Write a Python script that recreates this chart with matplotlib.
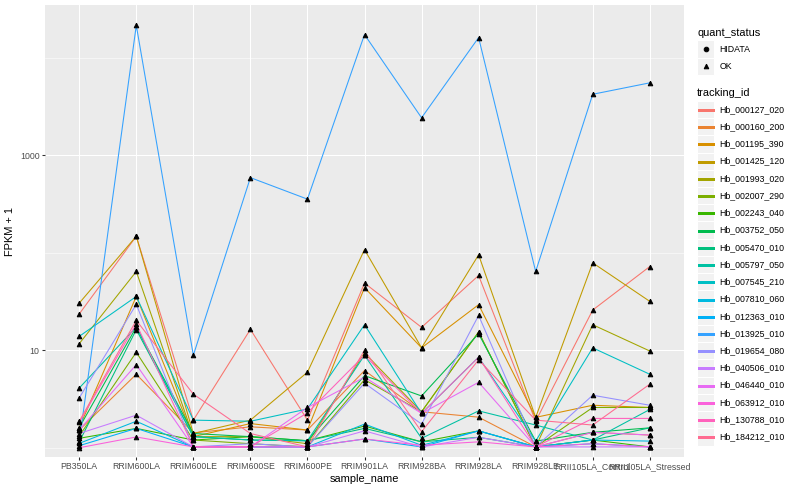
import numpy as np
import matplotlib
matplotlib.use("Agg")
import matplotlib.pyplot as plt
from matplotlib.patches import Rectangle
from matplotlib.lines import Line2D
from matplotlib.ticker import FixedLocator, NullFormatter

plt.rcParams["font.family"] = ["Liberation Sans", "DejaVu Sans"]

# ---------------- data ----------------
samples = ["PB350LA", "RRIM600LA", "RRIM600LE", "RRIM600SE", "RRIM600PE",
           "RRIM901LA", "RRIM928BA", "RRIM928LA", "RRIM928LE",
           "RRII105LA_Control", "RRII105LA_Stressed"]

tracking_ids = ["Hb_000127_020", "Hb_000160_200", "Hb_001195_390", "Hb_001425_120",
                "Hb_001993_020", "Hb_002007_290", "Hb_002243_040", "Hb_003752_050",
                "Hb_005470_010", "Hb_005797_050", "Hb_007545_210", "Hb_007810_060",
                "Hb_012363_010", "Hb_013925_010", "Hb_019654_080", "Hb_040506_010",
                "Hb_046440_010", "Hb_063912_010", "Hb_130788_010", "Hb_184212_010"]

colors = ["#F8766D", "#EA8331", "#D89000", "#C09B00", "#A3A500", "#7CAE00",
          "#39B600", "#00BB4E", "#00BF7D", "#00C1A3", "#00BFC4", "#00BAE0",
          "#00B0F6", "#35A2FF", "#9590FF", "#C77CFF", "#E76BF3", "#FA62DB",
          "#FF62BC", "#FF6C91"]

quant_levels = ["HIDATA", "OK"]

# FPKM + 1 per sample (same order as samples)
hb_000127_020 = [23.6, 148, 1.92, 16.4, 1.92, 49.0, 17.2, 58.6, 1.87, 25.9, 72.4]
hb_000160_200 = [1.52, 5.68, 1.42, 1.64, 1.52, 6.2, 2.34, 2.06, 1.02, 1.44, 1.35]
hb_001195_390 = [1.61, 35.7, 1.3, 1.77, 1.52, 44.0, 10.6, 29.4, 2.05, 2.73, 2.59]
hb_001425_120 = [30.5, 148, 1.4, 1.92, 5.96, 108, 10.6, 95.5, 2.05, 79.0, 31.8]
hb_001993_020 = [11.7, 64.4, 1.3, 1.3, 1.1, 9.4, 2.34, 15.4, 1.02, 18.3, 9.84]
hb_002007_290 = [1.32, 9.55, 1.2, 1.1, 1.02, 5.0, 2.34, 15.4, 1.02, 2.59, 2.59]
hb_002243_040 = [1.25, 1.58, 1.2, 1.3, 1.18, 1.67, 1.15, 1.49, 1.02, 1.2, 1.02]
hb_003752_050 = [1.61, 17.3, 1.4, 1.3, 1.18, 5.5, 3.4, 14.8, 1.17, 1.44, 1.6]
hb_005470_010 = [1.15, 16.3, 1.3, 1.2, 1.18, 1.58, 1.15, 1.28, 1.02, 1.2, 1.6]
hb_005797_050 = [4.1, 17.3, 1.3, 1.2, 1.18, 8.9, 1.25, 2.39, 1.71, 1.2, 2.47]
hb_007545_210 = [13.9, 35.7, 1.92, 1.87, 2.5, 18.3, 2.25, 8.5, 1.17, 10.6, 5.68]
hb_007810_060 = [1.11, 1.87, 1.02, 1.02, 1.02, 1.75, 1.06, 1.49, 1.02, 1.2, 1.17]
hb_012363_010 = [1.05, 1.58, 1.02, 1.02, 1.02, 1.23, 1.02, 1.49, 1.02, 1.1, 1.02]
hb_013925_010 = [1.15, 21600, 8.9, 592, 356, 17400, 2435, 16200, 64.4, 4245, 5560]
hb_019654_080 = [3.25, 29.6, 1.02, 1.1, 1.02, 4.6, 1.75, 22.8, 1.02, 3.46, 2.73]
hb_040506_010 = [1.4, 2.16, 1.02, 1.02, 1.02, 1.49, 1.02, 1.28, 1.02, 1.02, 1.02]
hb_046440_010 = [1.52, 7.13, 1.02, 1.02, 2.59, 5.3, 2.25, 4.7, 1.02, 1.44, 1.35]
hb_063912_010 = [1.0, 1.29, 1.02, 1.02, 1.02, 1.23, 1.06, 1.15, 1.02, 1.1, 1.02]
hb_130788_010 = [1.82, 18.7, 1.02, 1.02, 2.28, 8.9, 2.25, 8.5, 1.02, 2.0, 2.0]
hb_184212_010 = [1.87, 20.3, 3.55, 1.4, 1.02, 10.0, 1.46, 8.0, 1.92, 1.71, 4.49]

series = [hb_000127_020, hb_000160_200, hb_001195_390, hb_001425_120, hb_001993_020,
          hb_002007_290, hb_002243_040, hb_003752_050, hb_005470_010, hb_005797_050,
          hb_007545_210, hb_007810_060, hb_012363_010, hb_013925_010, hb_019654_080,
          hb_040506_010, hb_046440_010, hb_063912_010, hb_130788_010, hb_184212_010]

# ---------------- figure ----------------
W, H = 800, 500
fig = plt.figure(figsize=(W / 72, H / 72), dpi=72)
fig.patch.set_facecolor("white")

pl, pr, pt, pb = 45, 684, 5, 457
ax = fig.add_axes([pl / W, 1 - pb / H, (pr - pl) / W, (pb - pt) / H])
ax.set_facecolor("#EBEBEB")
for s in ax.spines.values():
    s.set_visible(False)

x = np.arange(len(samples))
ax.set_yscale("log")
ax.set_xlim(-0.6, len(samples) - 1 + 0.6)
ax.set_ylim(10 ** -0.095, 10 ** 4.544)

ax.yaxis.set_major_locator(FixedLocator([10, 1000]))
ax.yaxis.set_minor_locator(FixedLocator([1, 100, 10000]))
ax.yaxis.set_minor_formatter(NullFormatter())
ax.set_yticklabels(["10", "1000"])
ax.set_xticks(x)
ax.set_xticklabels(samples)

ax.grid(True, which="major", color="white", linewidth=1.07)
ax.grid(True, which="minor", axis="y", color="white", linewidth=0.53)
ax.set_axisbelow(True)

ax.tick_params(axis="both", which="major", length=2.75, width=1.07, color="#333333",
               labelsize=8.8, labelcolor="#4D4D4D", pad=2.6)
ax.tick_params(axis="y", which="minor", length=0)

for vals, col in zip(series, colors):
    ax.plot(x, vals, color=col, linewidth=1.07, zorder=2)
for vals in series:
    ax.plot(x, vals, linestyle="none", marker="^", markersize=4.6,
            color="black", zorder=3)

ax.set_xlabel("sample_name", fontsize=11, labelpad=3)
ax.set_ylabel("FPKM + 1", fontsize=11, labelpad=5)

# ---------------- legends (ggplot-like) ----------------
lg = fig.add_axes([0, 0, 1, 1])
lg.set_xlim(0, W)
lg.set_ylim(H, 0)
lg.axis("off")

kx, ks = 697, 17.28
tx = kx + ks + 5

lg.text(kx, 33, "quant_status", fontsize=11, va="center", ha="left")
shapes = ["o", "^"]
for i, (lev, mk) in enumerate(zip(quant_levels, shapes)):
    cy = 49 + i * ks
    lg.add_patch(Rectangle((kx, cy - ks / 2), ks, ks, facecolor="#F2F2F2",
                           edgecolor="white", linewidth=1))
    lg.add_line(Line2D([kx + ks / 2], [cy], marker=mk, markersize=4.6,
                       color="black", linestyle="none"))
    lg.text(tx, cy, lev, fontsize=8.8, va="center", ha="left")

lg.text(kx, 93, "tracking_id", fontsize=11, va="center", ha="left")
for i, (tid, col) in enumerate(zip(tracking_ids, colors)):
    cy = 109.5 + i * 17.23
    ly = np.floor(cy) + 0.5
    lg.add_patch(Rectangle((kx, cy - ks / 2), ks, ks, facecolor="#F2F2F2",
                           edgecolor="white", linewidth=1))
    lg.add_line(Line2D([kx + 1.5, kx + ks - 1.5], [ly, ly], color=col,
                       linewidth=1.3, antialiased=False))
    lg.text(tx, cy, tid, fontsize=8.8, va="center", ha="left")

fig.savefig("out.png", dpi=72)
